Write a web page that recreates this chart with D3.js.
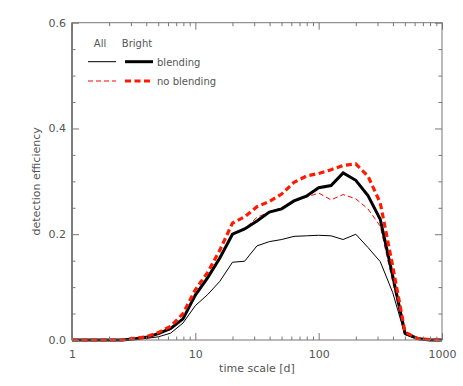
<!DOCTYPE html>
<meta charset="utf-8">
<style>
  body { margin: 0; background: #fff; }
  text { font-family: "DejaVu Sans", sans-serif; fill: #555; }
</style>
<svg width="463" height="386"></svg>
<script src="https://d3js.org/d3.v7.min.js"></script>
<script>
// time scale sampling (days), 0.1 dex steps
var timescales = [1, 1.26, 1.58, 2, 2.51, 3.16, 3.98, 5.01, 6.31, 7.94,
  10, 12.6, 15.8, 20, 25.1, 31.6, 39.8, 50.1, 63.1, 79.4,
  100, 126, 158, 200, 251, 316, 398, 501, 631, 794, 1000]

var allBlend = [0, 0, 0, 0, 0, 0.001, 0.003, 0.006, 0.013, 0.032,
  0.065, 0.086, 0.111, 0.147, 0.149, 0.178, 0.186, 0.19, 0.196, 0.197,
  0.198, 0.197, 0.19, 0.2, 0.175, 0.148, 0.09, 0.01, 0.002, 0, 0]

var brightBlend = [0, 0, 0, 0, 0, 0.002, 0.005, 0.012, 0.022, 0.04,
  0.085, 0.118, 0.155, 0.2, 0.21, 0.225, 0.242, 0.248, 0.263, 0.272,
  0.288, 0.292, 0.316, 0.302, 0.273, 0.228, 0.122, 0.013, 0.003, 0, 0]

var allNoBlend = [0, 0, 0, 0, 0, 0.002, 0.005, 0.011, 0.02, 0.04,
  0.086, 0.12, 0.158, 0.202, 0.21, 0.232, 0.242, 0.25, 0.262, 0.27,
  0.278, 0.265, 0.275, 0.267, 0.248, 0.215, 0.11, 0.012, 0.003, 0, 0]

var brightNoBlend = [0, 0, 0, 0, 0, 0.003, 0.006, 0.014, 0.026, 0.05,
  0.095, 0.128, 0.17, 0.221, 0.233, 0.252, 0.262, 0.276, 0.298, 0.31,
  0.315, 0.322, 0.33, 0.333, 0.31, 0.259, 0.14, 0.015, 0.003, 0.001, 0]

var xTickLabels = ['1', '10', '100', '1000']
var yTickLabels = ['0.0', '0.2', '0.4', '0.6']

var series = [
  { values: allBlend, color: '#000', width: 1, dash: null },
  { values: allNoBlend, color: '#ff0000', width: 1, dash: '5,3' },
  { values: brightBlend, color: '#000', width: 3, dash: null },
  { values: brightNoBlend, color: '#ff1a00', width: 3.2, dash: '6,3.5' }
]

var svg = d3.select('svg')
var plotLeft = 72, plotRight = 442, plotTop = 22.7, plotBottom = 340

var x = d3.scaleLog().domain([1, 1000]).range([plotLeft, plotRight])
var y = d3.scaleLinear().domain([0, 0.6]).range([plotBottom, plotTop])

var axisColor = '#777'

// lines
var line = d3.line()
  .x(function (d) { return x(d[0]) })
  .y(function (d) { return y(d[1]) })

var lineGroup = svg.append('g')
series.forEach(function (s) {
  lineGroup.append('path')
    .datum(timescales.map(function (t, i) { return [t, s.values[i]] }))
    .attr('d', line)
    .attr('fill', 'none')
    .attr('stroke', s.color)
    .attr('stroke-width', s.width)
    .attr('stroke-dasharray', s.dash)
    .attr('stroke-linejoin', 'miter')
})

// frame
var frame = svg.append('g')
frame.append('rect')
  .attr('x', plotLeft).attr('y', plotTop)
  .attr('width', plotRight - plotLeft).attr('height', plotBottom - plotTop)
  .attr('fill', 'none').attr('stroke', axisColor).attr('stroke-width', 1)
frame.append('line')
  .attr('x1', plotLeft).attr('x2', plotLeft).attr('y1', plotTop).attr('y2', plotBottom)
  .attr('stroke', axisColor).attr('stroke-width', 1.8)

function styleTicks(g) {
  g.select('.domain').remove()
  g.selectAll('line').attr('stroke', axisColor)
}

// x ticks (inward, top and bottom)
var xMinor = []
for (var dec = 1; dec < 1000; dec *= 10) {
  for (var k = 2; k <= 9; k++) xMinor.push(dec * k)
}
var xMajor = [1, 10, 100, 1000]

var gx = svg.append('g').attr('transform', 'translate(0,' + plotBottom + ')')
  .call(d3.axisBottom(x).tickValues(xMajor).tickFormat(function (d, i) { return xTickLabels[i] })
    .tickSizeInner(-7).tickSizeOuter(0).tickPadding(10))
  .call(styleTicks)
gx.selectAll('.tick text').attr('font-size', 11).attr('fill', '#555').attr('font-family', 'DejaVu Sans')

svg.append('g').attr('transform', 'translate(0,' + plotBottom + ')')
  .call(d3.axisBottom(x).tickValues(xMinor).tickFormat('').tickSizeInner(-3.5).tickSizeOuter(0))
  .call(styleTicks)
svg.append('g').attr('transform', 'translate(0,' + plotTop + ')')
  .call(d3.axisTop(x).tickValues(xMajor).tickFormat('').tickSizeInner(-7).tickSizeOuter(0))
  .call(styleTicks)
svg.append('g').attr('transform', 'translate(0,' + plotTop + ')')
  .call(d3.axisTop(x).tickValues(xMinor).tickFormat('').tickSizeInner(-3.5).tickSizeOuter(0))
  .call(styleTicks)

// y ticks
var yMajor = [0, 0.2, 0.4, 0.6]
var yMinor = [0.05, 0.1, 0.15, 0.25, 0.3, 0.35, 0.45, 0.5, 0.55]

var gy = svg.append('g').attr('transform', 'translate(' + plotLeft + ',0)')
  .call(d3.axisLeft(y).tickValues(yMajor).tickFormat(function (d, i) { return yTickLabels[i] })
    .tickSizeInner(-7).tickSizeOuter(0).tickPadding(6))
  .call(styleTicks)
gy.selectAll('.tick text').attr('font-size', 11).attr('fill', '#555').attr('font-family', 'DejaVu Sans')

svg.append('g').attr('transform', 'translate(' + plotLeft + ',0)')
  .call(d3.axisLeft(y).tickValues(yMinor).tickFormat('').tickSizeInner(-3.5).tickSizeOuter(0))
  .call(styleTicks)
svg.append('g').attr('transform', 'translate(' + plotRight + ',0)')
  .call(d3.axisRight(y).tickValues(yMajor).tickFormat('').tickSizeInner(-7).tickSizeOuter(0))
  .call(styleTicks)
svg.append('g').attr('transform', 'translate(' + plotRight + ',0)')
  .call(d3.axisRight(y).tickValues(yMinor).tickFormat('').tickSizeInner(-3.5).tickSizeOuter(0))
  .call(styleTicks)

// axis titles
svg.append('text')
  .attr('x', (plotLeft + plotRight) / 2).attr('y', 372)
  .attr('text-anchor', 'middle').attr('font-size', 11)
  .text('time scale [d]')
svg.append('text')
  .attr('transform', 'translate(40,' + ((plotTop + plotBottom) / 2) + ') rotate(-90)')
  .attr('text-anchor', 'middle').attr('font-size', 11)
  .text('detection efficiency')

// legend
var legend = svg.append('g')
legend.append('text').attr('x', 100).attr('y', 47).attr('text-anchor', 'middle').attr('font-size', 10).text('All')
legend.append('text').attr('x', 137).attr('y', 47).attr('text-anchor', 'middle').attr('font-size', 10).text('Bright')

var legendRows = [
  { label: 'blending', thin: series[0], thick: series[2], y: 61.7 },
  { label: 'no blending', thin: series[1], thick: series[3], y: 81 }
]
legendRows.forEach(function (r) {
  legend.append('line').attr('x1', 88).attr('x2', 116).attr('y1', r.y).attr('y2', r.y)
    .attr('stroke', r.thin.color).attr('stroke-width', r.thin.width).attr('stroke-dasharray', r.thin.dash)
  legend.append('line').attr('x1', 125).attr('x2', 153).attr('y1', r.y).attr('y2', r.y)
    .attr('stroke', r.thick.color).attr('stroke-width', r.thick.width).attr('stroke-dasharray', r.thick.dash)
  legend.append('text').attr('x', 157).attr('y', r.y + 4).attr('font-size', 10).text(r.label)
})
</script>
